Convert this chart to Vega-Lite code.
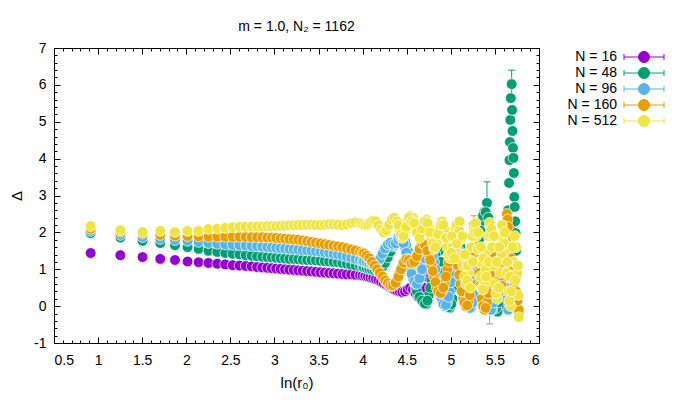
{
"$schema":"https://vega.github.io/schema/vega-lite/v6.json",
"width":485,"height":295,"autosize":"none",
"padding":{"left":54,"top":48,"right":141,"bottom":65},
"title":{"text":"m = 1.0, N₂ = 1162","font":"Liberation Sans","fontSize":14,"fontWeight":"normal","color":"black","offset":12,"dy":5},
"config":{"view":{"stroke":"black","strokeWidth":1},
"axis":{"domain":false,"grid":false,"tickColor":"black","labelColor":"black","labelFont":"Liberation Sans","labelFontSize":14,"titleFont":"Liberation Sans","titleFontSize":15,"titleFontWeight":"normal","titleColor":"black"}},
"data":{"values":[
{"N":"N = 16","x":0.916,"y":1.44},{"N":"N = 16","x":1.253,"y":1.38},{"N":"N = 16","x":1.504,"y":1.33},{"N":"N = 16","x":1.705,"y":1.28},{"N":"N = 16","x":1.872,"y":1.25},{"N":"N = 16","x":2.015,"y":1.21},{"N":"N = 16","x":2.14,"y":1.19},{"N":"N = 16","x":2.251,"y":1.17},{"N":"N = 16","x":2.351,"y":1.15},{"N":"N = 16","x":2.442,"y":1.13},{"N":"N = 16","x":2.526,"y":1.11},{"N":"N = 16","x":2.603,"y":1.1},{"N":"N = 16","x":2.674,"y":1.09},{"N":"N = 16","x":2.741,"y":1.08},{"N":"N = 16","x":2.803,"y":1.06},{"N":"N = 16","x":2.862,"y":1.05},{"N":"N = 16","x":2.918,"y":1.04},{"N":"N = 16","x":2.97,"y":1.03},
{"N":"N = 16","x":3.02,"y":1.02},{"N":"N = 16","x":3.07,"y":1.01},{"N":"N = 16","x":3.12,"y":1.0},{"N":"N = 16","x":3.17,"y":0.99},{"N":"N = 16","x":3.22,"y":0.98},{"N":"N = 16","x":3.27,"y":0.97},{"N":"N = 16","x":3.32,"y":0.96},{"N":"N = 16","x":3.37,"y":0.95},{"N":"N = 16","x":3.42,"y":0.94},{"N":"N = 16","x":3.47,"y":0.93},{"N":"N = 16","x":3.52,"y":0.92},{"N":"N = 16","x":3.57,"y":0.91},{"N":"N = 16","x":3.62,"y":0.9},{"N":"N = 16","x":3.67,"y":0.89},{"N":"N = 16","x":3.72,"y":0.88},{"N":"N = 16","x":3.77,"y":0.87},{"N":"N = 16","x":3.82,"y":0.86},{"N":"N = 16","x":3.87,"y":0.86},{"N":"N = 16","x":3.92,"y":0.85},{"N":"N = 16","x":3.97,"y":0.84},
{"N":"N = 16","x":4.0,"y":0.83},{"N":"N = 16","x":4.03,"y":0.82},{"N":"N = 16","x":4.06,"y":0.8},{"N":"N = 16","x":4.09,"y":0.78},{"N":"N = 16","x":4.12,"y":0.76},{"N":"N = 16","x":4.15,"y":0.73},{"N":"N = 16","x":4.18,"y":0.7},{"N":"N = 16","x":4.21,"y":0.66},{"N":"N = 16","x":4.24,"y":0.62},{"N":"N = 16","x":4.27,"y":0.58},{"N":"N = 16","x":4.3,"y":0.54},{"N":"N = 16","x":4.33,"y":0.5},{"N":"N = 16","x":4.36,"y":0.45},{"N":"N = 16","x":4.39,"y":0.42},{"N":"N = 16","x":4.42,"y":0.4},{"N":"N = 16","x":4.45,"y":0.38},{"N":"N = 16","x":4.48,"y":0.4},{"N":"N = 16","x":4.51,"y":0.45},{"N":"N = 16","x":4.54,"y":0.5},{"N":"N = 16","x":4.57,"y":0.45},{"N":"N = 16","x":4.6,"y":0.35},{"N":"N = 16","x":4.63,"y":0.25},{"N":"N = 16","x":4.66,"y":0.3},{"N":"N = 16","x":4.69,"y":0.5},{"N":"N = 16","x":4.72,"y":0.8},{"N":"N = 16","x":4.75,"y":1.0},{"N":"N = 16","x":4.78,"y":1.1},{"N":"N = 16","x":4.81,"y":1.0},{"N":"N = 16","x":4.84,"y":0.8},{"N":"N = 16","x":4.87,"y":0.55},{"N":"N = 16","x":4.9,"y":0.35},{"N":"N = 16","x":4.93,"y":0.2},{"N":"N = 16","x":4.96,"y":0.15},{"N":"N = 16","x":4.99,"y":0.3},{"N":"N = 16","x":5.02,"y":0.6},{"N":"N = 16","x":5.05,"y":0.9},{"N":"N = 16","x":5.08,"y":1.1},{"N":"N = 16","x":5.11,"y":1.05},{"N":"N = 16","x":5.14,"y":0.8},{"N":"N = 16","x":5.17,"y":0.4},{"N":"N = 16","x":5.2,"y":0.1},{"N":"N = 16","x":5.23,"y":0.0},{"N":"N = 16","x":5.26,"y":0.3},{"N":"N = 16","x":5.29,"y":0.8},{"N":"N = 16","x":5.32,"y":1.2},{"N":"N = 16","x":5.35,"y":1.0},{"N":"N = 16","x":5.38,"y":0.5},{"N":"N = 16","x":5.41,"y":0.1},{"N":"N = 16","x":5.44,"y":0.05},{"N":"N = 16","x":5.47,"y":0.6},{"N":"N = 16","x":5.5,"y":1.2},{"N":"N = 16","x":5.53,"y":1.1},{"N":"N = 16","x":5.56,"y":0.4},{"N":"N = 16","x":5.59,"y":0.0},{"N":"N = 16","x":5.62,"y":0.5},{"N":"N = 16","x":5.65,"y":1.5},{"N":"N = 16","x":5.68,"y":2.2},{"N":"N = 16","x":5.71,"y":1.0},{"N":"N = 16","x":5.74,"y":0.0},{"N":"N = 16","x":5.77,"y":-0.1},

{"N":"N = 48","x":0.916,"y":1.98},{"N":"N = 48","x":1.253,"y":1.86},{"N":"N = 48","x":1.504,"y":1.77},{"N":"N = 48","x":1.705,"y":1.71},{"N":"N = 48","x":1.872,"y":1.65},{"N":"N = 48","x":2.015,"y":1.6},{"N":"N = 48","x":2.14,"y":1.55},{"N":"N = 48","x":2.251,"y":1.5},{"N":"N = 48","x":2.351,"y":1.47},{"N":"N = 48","x":2.442,"y":1.44},{"N":"N = 48","x":2.526,"y":1.42},{"N":"N = 48","x":2.603,"y":1.4},{"N":"N = 48","x":2.674,"y":1.38},{"N":"N = 48","x":2.741,"y":1.37},{"N":"N = 48","x":2.803,"y":1.35},{"N":"N = 48","x":2.862,"y":1.34},{"N":"N = 48","x":2.918,"y":1.33},{"N":"N = 48","x":2.97,"y":1.32},
{"N":"N = 48","x":3.02,"y":1.31},{"N":"N = 48","x":3.07,"y":1.3},{"N":"N = 48","x":3.12,"y":1.29},{"N":"N = 48","x":3.17,"y":1.28},{"N":"N = 48","x":3.22,"y":1.28},{"N":"N = 48","x":3.27,"y":1.27},{"N":"N = 48","x":3.32,"y":1.26},{"N":"N = 48","x":3.37,"y":1.25},{"N":"N = 48","x":3.42,"y":1.25},{"N":"N = 48","x":3.47,"y":1.24},{"N":"N = 48","x":3.52,"y":1.23},{"N":"N = 48","x":3.57,"y":1.22},{"N":"N = 48","x":3.62,"y":1.21},{"N":"N = 48","x":3.67,"y":1.2},{"N":"N = 48","x":3.72,"y":1.19},{"N":"N = 48","x":3.77,"y":1.17},{"N":"N = 48","x":3.82,"y":1.15},{"N":"N = 48","x":3.87,"y":1.12},{"N":"N = 48","x":3.92,"y":1.1},{"N":"N = 48","x":3.97,"y":1.08},
{"N":"N = 48","x":4.0,"y":1.06},{"N":"N = 48","x":4.03,"y":1.04},{"N":"N = 48","x":4.06,"y":1.02},{"N":"N = 48","x":4.09,"y":1.0},{"N":"N = 48","x":4.12,"y":0.98},{"N":"N = 48","x":4.15,"y":0.97},{"N":"N = 48","x":4.18,"y":0.98},{"N":"N = 48","x":4.21,"y":1.02},{"N":"N = 48","x":4.24,"y":1.1},{"N":"N = 48","x":4.27,"y":1.25},{"N":"N = 48","x":4.3,"y":1.4},{"N":"N = 48","x":4.33,"y":1.55},{"N":"N = 48","x":4.36,"y":1.7},{"N":"N = 48","x":4.39,"y":1.82},{"N":"N = 48","x":4.42,"y":1.9},{"N":"N = 48","x":4.45,"y":1.88},{"N":"N = 48","x":4.48,"y":1.75},{"N":"N = 48","x":4.51,"y":1.5},{"N":"N = 48","x":4.54,"y":1.15},{"N":"N = 48","x":4.57,"y":0.8},{"N":"N = 48","x":4.6,"y":0.5},{"N":"N = 48","x":4.63,"y":0.3},{"N":"N = 48","x":4.66,"y":0.2},{"N":"N = 48","x":4.69,"y":0.1},{"N":"N = 48","x":4.72,"y":0.05},{"N":"N = 48","x":4.75,"y":0.3},{"N":"N = 48","x":4.78,"y":0.7},{"N":"N = 48","x":4.81,"y":1.2},{"N":"N = 48","x":4.84,"y":1.6},{"N":"N = 48","x":4.87,"y":1.5},{"N":"N = 48","x":4.9,"y":0.9},{"N":"N = 48","x":4.93,"y":0.3},{"N":"N = 48","x":4.96,"y":0.0},{"N":"N = 48","x":4.99,"y":-0.05},{"N":"N = 48","x":5.02,"y":0.2},{"N":"N = 48","x":5.05,"y":0.8},{"N":"N = 48","x":5.08,"y":1.4},{"N":"N = 48","x":5.11,"y":1.6},{"N":"N = 48","x":5.14,"y":1.2},{"N":"N = 48","x":5.17,"y":0.6},{"N":"N = 48","x":5.2,"y":0.1},{"N":"N = 48","x":5.23,"y":0.0},{"N":"N = 48","x":5.26,"y":0.4},{"N":"N = 48","x":5.29,"y":1.1},{"N":"N = 48","x":5.32,"y":1.8},{"N":"N = 48","x":5.35,"y":2.3},{"N":"N = 48","x":5.38,"y":2.55},{"N":"N = 48","x":5.41,"y":2.8,"lo":2.25,"hi":3.37},{"N":"N = 48","x":5.44,"y":2.0},{"N":"N = 48","x":5.47,"y":1.0},{"N":"N = 48","x":5.5,"y":0.1},{"N":"N = 48","x":5.53,"y":-0.15},{"N":"N = 48","x":5.56,"y":0.3},{"N":"N = 48","x":5.59,"y":1.0},{"N":"N = 48","x":5.62,"y":2.0},{"N":"N = 48","x":5.65,"y":2.6},{"N":"N = 48","x":5.66,"y":3.34},{"N":"N = 48","x":5.665,"y":3.96},{"N":"N = 48","x":5.67,"y":4.45},{"N":"N = 48","x":5.675,"y":5.05},{"N":"N = 48","x":5.68,"y":5.64},{"N":"N = 48","x":5.69,"y":6.02,"lo":5.64,"hi":6.4},{"N":"N = 48","x":5.695,"y":5.32},{"N":"N = 48","x":5.7,"y":4.75},{"N":"N = 48","x":5.705,"y":4.29},{"N":"N = 48","x":5.71,"y":4.02},{"N":"N = 48","x":5.715,"y":3.61},{"N":"N = 48","x":5.72,"y":2.96},{"N":"N = 48","x":5.725,"y":2.69},{"N":"N = 48","x":5.73,"y":2.3},{"N":"N = 48","x":5.735,"y":1.98},{"N":"N = 48","x":5.74,"y":1.5},{"N":"N = 48","x":5.75,"y":0.9},{"N":"N = 48","x":5.76,"y":0.3},{"N":"N = 48","x":5.77,"y":-0.1},
{"N":"N = 48","x":4.015,"y":1.05},{"N":"N = 48","x":4.045,"y":1.03},{"N":"N = 48","x":4.075,"y":1.01},{"N":"N = 48","x":4.105,"y":0.99},{"N":"N = 48","x":4.135,"y":0.97},{"N":"N = 48","x":4.165,"y":0.97},{"N":"N = 48","x":4.195,"y":1.0},{"N":"N = 48","x":4.225,"y":1.06},{"N":"N = 48","x":4.255,"y":1.17},{"N":"N = 48","x":4.285,"y":1.32},{"N":"N = 48","x":4.315,"y":1.48},{"N":"N = 48","x":4.345,"y":1.62},{"N":"N = 48","x":4.375,"y":1.76},{"N":"N = 48","x":4.405,"y":1.86},{"N":"N = 48","x":4.435,"y":1.9},{"N":"N = 48","x":4.465,"y":1.82},{"N":"N = 48","x":4.495,"y":1.63},{"N":"N = 48","x":4.525,"y":1.33},{"N":"N = 48","x":4.555,"y":0.97},{"N":"N = 48","x":4.585,"y":0.65},{"N":"N = 48","x":4.615,"y":0.4},{"N":"N = 48","x":4.645,"y":0.25},{"N":"N = 48","x":4.675,"y":0.15},{"N":"N = 48","x":4.705,"y":0.07},{"N":"N = 48","x":4.735,"y":0.15},{"N":"N = 48","x":4.765,"y":0.5},{"N":"N = 48","x":4.795,"y":0.95},{"N":"N = 48","x":4.825,"y":1.4},{"N":"N = 48","x":4.855,"y":1.6},{"N":"N = 48","x":4.885,"y":1.2},{"N":"N = 48","x":4.915,"y":0.6},{"N":"N = 48","x":4.945,"y":0.15},{"N":"N = 48","x":4.975,"y":-0.03},{"N":"N = 48","x":5.005,"y":0.05},{"N":"N = 48","x":5.035,"y":0.5},{"N":"N = 48","x":5.065,"y":1.1},{"N":"N = 48","x":5.095,"y":1.5},{"N":"N = 48","x":5.125,"y":1.4},{"N":"N = 48","x":5.155,"y":0.9},{"N":"N = 48","x":5.185,"y":0.35},{"N":"N = 48","x":5.215,"y":0.05},{"N":"N = 48","x":5.245,"y":0.2},{"N":"N = 48","x":5.275,"y":0.75},{"N":"N = 48","x":5.305,"y":1.45},{"N":"N = 48","x":5.335,"y":2.05},{"N":"N = 48","x":5.365,"y":2.45},{"N":"N = 48","x":5.395,"y":2.55},{"N":"N = 48","x":5.425,"y":2.4},{"N":"N = 48","x":5.455,"y":1.5},{"N":"N = 48","x":5.485,"y":0.5},{"N":"N = 48","x":5.515,"y":-0.05},{"N":"N = 48","x":5.545,"y":0.1},{"N":"N = 48","x":5.575,"y":0.65},{"N":"N = 48","x":5.605,"y":1.5},{"N":"N = 48","x":5.635,"y":2.3},

{"N":"N = 96","x":0.916,"y":2.04},{"N":"N = 96","x":1.253,"y":1.93},{"N":"N = 96","x":1.504,"y":1.87},{"N":"N = 96","x":1.705,"y":1.82},{"N":"N = 96","x":1.872,"y":1.79},{"N":"N = 96","x":2.015,"y":1.77},{"N":"N = 96","x":2.14,"y":1.74},{"N":"N = 96","x":2.251,"y":1.71},{"N":"N = 96","x":2.351,"y":1.69},{"N":"N = 96","x":2.442,"y":1.67},{"N":"N = 96","x":2.526,"y":1.66},{"N":"N = 96","x":2.603,"y":1.65},{"N":"N = 96","x":2.674,"y":1.64},{"N":"N = 96","x":2.741,"y":1.63},{"N":"N = 96","x":2.803,"y":1.62},{"N":"N = 96","x":2.862,"y":1.61},{"N":"N = 96","x":2.918,"y":1.6},{"N":"N = 96","x":2.97,"y":1.59},
{"N":"N = 96","x":3.02,"y":1.58},{"N":"N = 96","x":3.07,"y":1.57},{"N":"N = 96","x":3.12,"y":1.56},{"N":"N = 96","x":3.17,"y":1.55},{"N":"N = 96","x":3.22,"y":1.54},{"N":"N = 96","x":3.27,"y":1.53},{"N":"N = 96","x":3.32,"y":1.52},{"N":"N = 96","x":3.37,"y":1.51},{"N":"N = 96","x":3.42,"y":1.5},{"N":"N = 96","x":3.47,"y":1.49},{"N":"N = 96","x":3.52,"y":1.48},{"N":"N = 96","x":3.57,"y":1.46},{"N":"N = 96","x":3.62,"y":1.44},{"N":"N = 96","x":3.67,"y":1.42},{"N":"N = 96","x":3.72,"y":1.4},{"N":"N = 96","x":3.77,"y":1.37},{"N":"N = 96","x":3.82,"y":1.34},{"N":"N = 96","x":3.87,"y":1.31},{"N":"N = 96","x":3.92,"y":1.28},{"N":"N = 96","x":3.97,"y":1.25},
{"N":"N = 96","x":4.0,"y":1.22},{"N":"N = 96","x":4.03,"y":1.2},{"N":"N = 96","x":4.06,"y":1.18},{"N":"N = 96","x":4.09,"y":1.15},{"N":"N = 96","x":4.12,"y":1.13},{"N":"N = 96","x":4.15,"y":1.15},{"N":"N = 96","x":4.18,"y":1.22},{"N":"N = 96","x":4.21,"y":1.35},{"N":"N = 96","x":4.24,"y":1.5},{"N":"N = 96","x":4.27,"y":1.62},{"N":"N = 96","x":4.3,"y":1.7},{"N":"N = 96","x":4.33,"y":1.72},{"N":"N = 96","x":4.36,"y":1.65},{"N":"N = 96","x":4.39,"y":1.75},{"N":"N = 96","x":4.42,"y":1.85},{"N":"N = 96","x":4.45,"y":1.8},{"N":"N = 96","x":4.48,"y":1.6},{"N":"N = 96","x":4.51,"y":1.3},{"N":"N = 96","x":4.54,"y":1.0},{"N":"N = 96","x":4.57,"y":0.75},{"N":"N = 96","x":4.6,"y":0.6},{"N":"N = 96","x":4.63,"y":0.65},{"N":"N = 96","x":4.66,"y":0.85},{"N":"N = 96","x":4.69,"y":1.15},{"N":"N = 96","x":4.72,"y":1.45},{"N":"N = 96","x":4.75,"y":1.6},{"N":"N = 96","x":4.78,"y":1.5},{"N":"N = 96","x":4.81,"y":1.2},{"N":"N = 96","x":4.84,"y":0.8},{"N":"N = 96","x":4.87,"y":0.4},{"N":"N = 96","x":4.9,"y":0.15},{"N":"N = 96","x":4.93,"y":0.0},{"N":"N = 96","x":4.96,"y":0.1},{"N":"N = 96","x":4.99,"y":0.4},{"N":"N = 96","x":5.02,"y":0.9},{"N":"N = 96","x":5.05,"y":1.3},{"N":"N = 96","x":5.08,"y":1.5},{"N":"N = 96","x":5.11,"y":1.3},{"N":"N = 96","x":5.14,"y":0.8},{"N":"N = 96","x":5.17,"y":0.3},{"N":"N = 96","x":5.2,"y":0.0},{"N":"N = 96","x":5.23,"y":-0.05},{"N":"N = 96","x":5.26,"y":0.3},{"N":"N = 96","x":5.29,"y":0.9},{"N":"N = 96","x":5.32,"y":1.4},{"N":"N = 96","x":5.35,"y":1.5},{"N":"N = 96","x":5.38,"y":1.0},{"N":"N = 96","x":5.41,"y":0.4},{"N":"N = 96","x":5.44,"y":0.0,"lo":-0.48,"hi":0.48},{"N":"N = 96","x":5.47,"y":-0.1},{"N":"N = 96","x":5.5,"y":0.3},{"N":"N = 96","x":5.53,"y":1.0},{"N":"N = 96","x":5.56,"y":1.6},{"N":"N = 96","x":5.59,"y":1.3},{"N":"N = 96","x":5.62,"y":0.5},{"N":"N = 96","x":5.65,"y":-0.1},{"N":"N = 96","x":5.68,"y":0.3},{"N":"N = 96","x":5.71,"y":1.2},{"N":"N = 96","x":5.74,"y":0.8},{"N":"N = 96","x":5.77,"y":-0.2},
{"N":"N = 96","x":4.015,"y":1.21},{"N":"N = 96","x":4.045,"y":1.19},{"N":"N = 96","x":4.075,"y":1.16},{"N":"N = 96","x":4.105,"y":1.14},{"N":"N = 96","x":4.135,"y":1.13},{"N":"N = 96","x":4.165,"y":1.18},{"N":"N = 96","x":4.195,"y":1.28},{"N":"N = 96","x":4.225,"y":1.42},{"N":"N = 96","x":4.255,"y":1.56},{"N":"N = 96","x":4.285,"y":1.67},{"N":"N = 96","x":4.315,"y":1.72},{"N":"N = 96","x":4.345,"y":1.68},{"N":"N = 96","x":4.375,"y":1.7},{"N":"N = 96","x":4.405,"y":1.8},{"N":"N = 96","x":4.435,"y":1.85},{"N":"N = 96","x":4.465,"y":1.7},{"N":"N = 96","x":4.495,"y":1.45},{"N":"N = 96","x":4.525,"y":1.15},{"N":"N = 96","x":4.555,"y":0.88},{"N":"N = 96","x":4.585,"y":0.67},{"N":"N = 96","x":4.615,"y":0.6},{"N":"N = 96","x":4.645,"y":0.75},{"N":"N = 96","x":4.675,"y":1.0},{"N":"N = 96","x":4.705,"y":1.3},{"N":"N = 96","x":4.735,"y":1.55},{"N":"N = 96","x":4.765,"y":1.57},{"N":"N = 96","x":4.795,"y":1.35},{"N":"N = 96","x":4.825,"y":1.0},{"N":"N = 96","x":4.855,"y":0.6},{"N":"N = 96","x":4.885,"y":0.25},{"N":"N = 96","x":4.915,"y":0.05},{"N":"N = 96","x":4.945,"y":0.03},{"N":"N = 96","x":4.975,"y":0.25},{"N":"N = 96","x":5.005,"y":0.65},{"N":"N = 96","x":5.035,"y":1.1},{"N":"N = 96","x":5.065,"y":1.42},{"N":"N = 96","x":5.095,"y":1.42},{"N":"N = 96","x":5.125,"y":1.05},{"N":"N = 96","x":5.155,"y":0.55},{"N":"N = 96","x":5.185,"y":0.12},{"N":"N = 96","x":5.215,"y":-0.05},{"N":"N = 96","x":5.245,"y":0.1},{"N":"N = 96","x":5.275,"y":0.6},{"N":"N = 96","x":5.305,"y":1.15},{"N":"N = 96","x":5.335,"y":1.5},{"N":"N = 96","x":5.365,"y":1.25},{"N":"N = 96","x":5.395,"y":0.7},{"N":"N = 96","x":5.425,"y":0.15},{"N":"N = 96","x":5.455,"y":-0.1},{"N":"N = 96","x":5.485,"y":0.1},{"N":"N = 96","x":5.515,"y":0.65},{"N":"N = 96","x":5.545,"y":1.3},{"N":"N = 96","x":5.575,"y":1.5},{"N":"N = 96","x":5.605,"y":0.9},{"N":"N = 96","x":5.635,"y":0.2},{"N":"N = 96","x":5.665,"y":0.05},{"N":"N = 96","x":5.695,"y":0.75},{"N":"N = 96","x":5.725,"y":1.05},{"N":"N = 96","x":5.755,"y":0.3},

{"N":"N = 160","x":0.916,"y":2.1},{"N":"N = 160","x":1.253,"y":2.02},{"N":"N = 160","x":1.504,"y":1.97},{"N":"N = 160","x":1.705,"y":1.93},{"N":"N = 160","x":1.872,"y":1.91},{"N":"N = 160","x":2.015,"y":1.9},{"N":"N = 160","x":2.14,"y":1.89},{"N":"N = 160","x":2.251,"y":1.88},{"N":"N = 160","x":2.351,"y":1.88},{"N":"N = 160","x":2.442,"y":1.88},{"N":"N = 160","x":2.526,"y":1.88},{"N":"N = 160","x":2.603,"y":1.88},{"N":"N = 160","x":2.674,"y":1.88},{"N":"N = 160","x":2.741,"y":1.87},{"N":"N = 160","x":2.803,"y":1.87},{"N":"N = 160","x":2.862,"y":1.87},{"N":"N = 160","x":2.918,"y":1.86},{"N":"N = 160","x":2.97,"y":1.86},
{"N":"N = 160","x":3.02,"y":1.85},{"N":"N = 160","x":3.07,"y":1.84},{"N":"N = 160","x":3.12,"y":1.83},{"N":"N = 160","x":3.17,"y":1.82},{"N":"N = 160","x":3.22,"y":1.81},{"N":"N = 160","x":3.27,"y":1.8},{"N":"N = 160","x":3.32,"y":1.78},{"N":"N = 160","x":3.37,"y":1.76},{"N":"N = 160","x":3.42,"y":1.74},{"N":"N = 160","x":3.47,"y":1.72},{"N":"N = 160","x":3.52,"y":1.7},{"N":"N = 160","x":3.57,"y":1.68},{"N":"N = 160","x":3.62,"y":1.66},{"N":"N = 160","x":3.67,"y":1.64},{"N":"N = 160","x":3.72,"y":1.62},{"N":"N = 160","x":3.77,"y":1.6},{"N":"N = 160","x":3.82,"y":1.57},{"N":"N = 160","x":3.87,"y":1.54},{"N":"N = 160","x":3.92,"y":1.51},{"N":"N = 160","x":3.97,"y":1.48},
{"N":"N = 160","x":4.0,"y":1.45},{"N":"N = 160","x":4.03,"y":1.4},{"N":"N = 160","x":4.06,"y":1.33},{"N":"N = 160","x":4.09,"y":1.25},{"N":"N = 160","x":4.12,"y":1.15},{"N":"N = 160","x":4.15,"y":1.05},{"N":"N = 160","x":4.18,"y":0.95},{"N":"N = 160","x":4.21,"y":0.85},{"N":"N = 160","x":4.24,"y":0.75},{"N":"N = 160","x":4.27,"y":0.65},{"N":"N = 160","x":4.3,"y":0.58},{"N":"N = 160","x":4.33,"y":0.55},{"N":"N = 160","x":4.36,"y":0.58},{"N":"N = 160","x":4.39,"y":0.7},{"N":"N = 160","x":4.42,"y":0.9},{"N":"N = 160","x":4.45,"y":1.1},{"N":"N = 160","x":4.48,"y":1.25},{"N":"N = 160","x":4.51,"y":1.28},{"N":"N = 160","x":4.54,"y":1.2},{"N":"N = 160","x":4.57,"y":1.15},{"N":"N = 160","x":4.6,"y":1.25},{"N":"N = 160","x":4.63,"y":1.45},{"N":"N = 160","x":4.66,"y":1.65},{"N":"N = 160","x":4.69,"y":1.7},{"N":"N = 160","x":4.72,"y":1.6},{"N":"N = 160","x":4.75,"y":1.4},{"N":"N = 160","x":4.78,"y":1.1},{"N":"N = 160","x":4.81,"y":0.8},{"N":"N = 160","x":4.84,"y":0.5},{"N":"N = 160","x":4.87,"y":0.35},{"N":"N = 160","x":4.9,"y":0.4},{"N":"N = 160","x":4.93,"y":0.65},{"N":"N = 160","x":4.96,"y":1.0},{"N":"N = 160","x":4.99,"y":1.35},{"N":"N = 160","x":5.02,"y":1.6},{"N":"N = 160","x":5.05,"y":1.5},{"N":"N = 160","x":5.08,"y":1.1},{"N":"N = 160","x":5.11,"y":0.6},{"N":"N = 160","x":5.14,"y":0.2},{"N":"N = 160","x":5.17,"y":0.0},{"N":"N = 160","x":5.2,"y":0.1},{"N":"N = 160","x":5.23,"y":0.6},{"N":"N = 160","x":5.26,"y":2.2,"lo":2.0,"hi":2.45},{"N":"N = 160","x":5.29,"y":1.6},{"N":"N = 160","x":5.32,"y":0.9},{"N":"N = 160","x":5.35,"y":0.2},{"N":"N = 160","x":5.38,"y":-0.1},{"N":"N = 160","x":5.41,"y":0.1},{"N":"N = 160","x":5.44,"y":0.6},{"N":"N = 160","x":5.47,"y":1.2},{"N":"N = 160","x":5.5,"y":1.4},{"N":"N = 160","x":5.53,"y":1.0},{"N":"N = 160","x":5.56,"y":0.4},{"N":"N = 160","x":5.59,"y":0.8},{"N":"N = 160","x":5.62,"y":1.6},{"N":"N = 160","x":5.625,"y":2.1},{"N":"N = 160","x":5.635,"y":2.5,"lo":2.3,"hi":2.7},{"N":"N = 160","x":5.645,"y":2.35},{"N":"N = 160","x":5.65,"y":2.15},{"N":"N = 160","x":5.655,"y":1.9},{"N":"N = 160","x":5.665,"y":1.6},{"N":"N = 160","x":5.68,"y":1.3},{"N":"N = 160","x":5.71,"y":0.9},{"N":"N = 160","x":5.74,"y":0.4},{"N":"N = 160","x":5.77,"y":-0.1},
{"N":"N = 160","x":4.015,"y":1.43},{"N":"N = 160","x":4.045,"y":1.37},{"N":"N = 160","x":4.075,"y":1.3},{"N":"N = 160","x":4.105,"y":1.2},{"N":"N = 160","x":4.135,"y":1.1},{"N":"N = 160","x":4.165,"y":1.0},{"N":"N = 160","x":4.195,"y":0.9},{"N":"N = 160","x":4.225,"y":0.8},{"N":"N = 160","x":4.255,"y":0.7},{"N":"N = 160","x":4.285,"y":0.62},{"N":"N = 160","x":4.315,"y":0.56},{"N":"N = 160","x":4.345,"y":0.56},{"N":"N = 160","x":4.375,"y":0.63},{"N":"N = 160","x":4.405,"y":0.8},{"N":"N = 160","x":4.435,"y":1.0},{"N":"N = 160","x":4.465,"y":1.18},{"N":"N = 160","x":4.495,"y":1.27},{"N":"N = 160","x":4.525,"y":1.25},{"N":"N = 160","x":4.555,"y":1.17},{"N":"N = 160","x":4.585,"y":1.2},{"N":"N = 160","x":4.615,"y":1.35},{"N":"N = 160","x":4.645,"y":1.55},{"N":"N = 160","x":4.675,"y":1.7},{"N":"N = 160","x":4.705,"y":1.67},{"N":"N = 160","x":4.735,"y":1.5},{"N":"N = 160","x":4.765,"y":1.25},{"N":"N = 160","x":4.795,"y":0.95},{"N":"N = 160","x":4.825,"y":0.65},{"N":"N = 160","x":4.855,"y":0.4},{"N":"N = 160","x":4.885,"y":0.35},{"N":"N = 160","x":4.915,"y":0.5},{"N":"N = 160","x":4.945,"y":0.8},{"N":"N = 160","x":4.975,"y":1.2},{"N":"N = 160","x":5.005,"y":1.5},{"N":"N = 160","x":5.035,"y":1.58},{"N":"N = 160","x":5.065,"y":1.3},{"N":"N = 160","x":5.095,"y":0.85},{"N":"N = 160","x":5.125,"y":0.4},{"N":"N = 160","x":5.155,"y":0.1},{"N":"N = 160","x":5.185,"y":0.02},{"N":"N = 160","x":5.215,"y":0.3},{"N":"N = 160","x":5.245,"y":1.4},{"N":"N = 160","x":5.275,"y":1.9},{"N":"N = 160","x":5.305,"y":1.25},{"N":"N = 160","x":5.335,"y":0.55},{"N":"N = 160","x":5.365,"y":0.0},{"N":"N = 160","x":5.395,"y":-0.05},{"N":"N = 160","x":5.425,"y":0.35},{"N":"N = 160","x":5.455,"y":0.9},{"N":"N = 160","x":5.485,"y":1.35},{"N":"N = 160","x":5.515,"y":1.2},{"N":"N = 160","x":5.545,"y":0.7},{"N":"N = 160","x":5.575,"y":0.55},{"N":"N = 160","x":5.605,"y":1.2},{"N":"N = 160","x":5.695,"y":1.1},{"N":"N = 160","x":5.725,"y":0.65},{"N":"N = 160","x":5.755,"y":0.15},

{"N":"N = 512","x":0.916,"y":2.17},{"N":"N = 512","x":1.253,"y":2.06},{"N":"N = 512","x":1.504,"y":2.01},{"N":"N = 512","x":1.705,"y":2.04},{"N":"N = 512","x":1.872,"y":2.01},{"N":"N = 512","x":2.015,"y":2.04},{"N":"N = 512","x":2.14,"y":2.04},{"N":"N = 512","x":2.251,"y":2.09},{"N":"N = 512","x":2.351,"y":2.1},{"N":"N = 512","x":2.442,"y":2.12},{"N":"N = 512","x":2.526,"y":2.14},{"N":"N = 512","x":2.603,"y":2.15},{"N":"N = 512","x":2.674,"y":2.15},{"N":"N = 512","x":2.741,"y":2.16},{"N":"N = 512","x":2.803,"y":2.16},{"N":"N = 512","x":2.862,"y":2.16},{"N":"N = 512","x":2.918,"y":2.17},{"N":"N = 512","x":2.97,"y":2.17},
{"N":"N = 512","x":3.02,"y":2.17},{"N":"N = 512","x":3.07,"y":2.18},{"N":"N = 512","x":3.12,"y":2.18},{"N":"N = 512","x":3.17,"y":2.19},{"N":"N = 512","x":3.22,"y":2.19},{"N":"N = 512","x":3.27,"y":2.2},{"N":"N = 512","x":3.32,"y":2.2},{"N":"N = 512","x":3.37,"y":2.21},{"N":"N = 512","x":3.42,"y":2.21},{"N":"N = 512","x":3.47,"y":2.2},{"N":"N = 512","x":3.52,"y":2.2},{"N":"N = 512","x":3.57,"y":2.21},{"N":"N = 512","x":3.62,"y":2.22},{"N":"N = 512","x":3.67,"y":2.22},{"N":"N = 512","x":3.72,"y":2.21},{"N":"N = 512","x":3.77,"y":2.2},{"N":"N = 512","x":3.82,"y":2.22},{"N":"N = 512","x":3.87,"y":2.25},{"N":"N = 512","x":3.92,"y":2.27},{"N":"N = 512","x":3.97,"y":2.25},
{"N":"N = 512","x":4.0,"y":2.22},{"N":"N = 512","x":4.03,"y":2.2},{"N":"N = 512","x":4.06,"y":2.22},{"N":"N = 512","x":4.09,"y":2.28},{"N":"N = 512","x":4.12,"y":2.32},{"N":"N = 512","x":4.15,"y":2.3},{"N":"N = 512","x":4.18,"y":2.2},{"N":"N = 512","x":4.21,"y":2.08},{"N":"N = 512","x":4.24,"y":2.0},{"N":"N = 512","x":4.27,"y":2.05},{"N":"N = 512","x":4.3,"y":2.2},{"N":"N = 512","x":4.33,"y":2.35},{"N":"N = 512","x":4.36,"y":2.4},{"N":"N = 512","x":4.39,"y":2.3},{"N":"N = 512","x":4.42,"y":2.05},{"N":"N = 512","x":4.45,"y":1.85},{"N":"N = 512","x":4.48,"y":2.0},{"N":"N = 512","x":4.51,"y":2.3},{"N":"N = 512","x":4.54,"y":2.45},{"N":"N = 512","x":4.57,"y":2.4},{"N":"N = 512","x":4.6,"y":2.15},{"N":"N = 512","x":4.63,"y":1.9},{"N":"N = 512","x":4.66,"y":1.95},{"N":"N = 512","x":4.69,"y":2.2},{"N":"N = 512","x":4.72,"y":2.35},{"N":"N = 512","x":4.75,"y":2.2},{"N":"N = 512","x":4.78,"y":1.85},{"N":"N = 512","x":4.81,"y":1.55},{"N":"N = 512","x":4.84,"y":1.7},{"N":"N = 512","x":4.87,"y":2.1},{"N":"N = 512","x":4.9,"y":2.3},{"N":"N = 512","x":4.93,"y":2.1},{"N":"N = 512","x":4.96,"y":1.6},{"N":"N = 512","x":4.99,"y":1.3},{"N":"N = 512","x":5.02,"y":1.6},{"N":"N = 512","x":5.05,"y":2.1},{"N":"N = 512","x":5.08,"y":2.25},{"N":"N = 512","x":5.11,"y":1.8},{"N":"N = 512","x":5.14,"y":1.1},{"N":"N = 512","x":5.17,"y":0.6},{"N":"N = 512","x":5.2,"y":0.9},{"N":"N = 512","x":5.23,"y":1.6},{"N":"N = 512","x":5.26,"y":2.1},{"N":"N = 512","x":5.29,"y":1.9},{"N":"N = 512","x":5.32,"y":1.2},{"N":"N = 512","x":5.35,"y":0.5},{"N":"N = 512","x":5.38,"y":0.6},{"N":"N = 512","x":5.41,"y":1.5},{"N":"N = 512","x":5.44,"y":2.26,"lo":1.7,"hi":2.83},{"N":"N = 512","x":5.47,"y":1.6},{"N":"N = 512","x":5.5,"y":0.6},{"N":"N = 512","x":5.53,"y":0.2},{"N":"N = 512","x":5.56,"y":0.9},{"N":"N = 512","x":5.59,"y":1.8},{"N":"N = 512","x":5.62,"y":1.5},{"N":"N = 512","x":5.65,"y":0.4},{"N":"N = 512","x":5.68,"y":0.0},{"N":"N = 512","x":5.695,"y":0.8},{"N":"N = 512","x":5.71,"y":1.2},{"N":"N = 512","x":5.725,"y":1.9},{"N":"N = 512","x":5.74,"y":1.6},{"N":"N = 512","x":5.755,"y":0.9},{"N":"N = 512","x":5.765,"y":0.3},{"N":"N = 512","x":5.77,"y":-0.3},
{"N":"N = 512","x":4.405,"y":2.2},{"N":"N = 512","x":4.435,"y":1.95},{"N":"N = 512","x":4.465,"y":1.9},{"N":"N = 512","x":4.495,"y":2.15},{"N":"N = 512","x":4.525,"y":2.4},{"N":"N = 512","x":4.555,"y":2.3},{"N":"N = 512","x":4.585,"y":2.25},{"N":"N = 512","x":4.615,"y":2.0},{"N":"N = 512","x":4.645,"y":1.85},{"N":"N = 512","x":4.675,"y":2.1},{"N":"N = 512","x":4.705,"y":2.3},{"N":"N = 512","x":4.735,"y":2.25},{"N":"N = 512","x":4.765,"y":2.0},{"N":"N = 512","x":4.795,"y":1.7},{"N":"N = 512","x":4.825,"y":1.6},{"N":"N = 512","x":4.855,"y":1.95},{"N":"N = 512","x":4.885,"y":2.2},{"N":"N = 512","x":4.915,"y":2.2},{"N":"N = 512","x":4.945,"y":1.85},{"N":"N = 512","x":4.975,"y":1.4},{"N":"N = 512","x":5.005,"y":1.45},{"N":"N = 512","x":5.035,"y":1.85},{"N":"N = 512","x":5.065,"y":2.2},{"N":"N = 512","x":5.095,"y":2.05},{"N":"N = 512","x":5.125,"y":1.4},{"N":"N = 512","x":5.155,"y":0.8},{"N":"N = 512","x":5.185,"y":0.7},{"N":"N = 512","x":5.215,"y":1.25},{"N":"N = 512","x":5.245,"y":1.9},{"N":"N = 512","x":5.275,"y":2.0},{"N":"N = 512","x":5.305,"y":1.55},{"N":"N = 512","x":5.335,"y":0.8},{"N":"N = 512","x":5.365,"y":0.45},{"N":"N = 512","x":5.395,"y":1.0},{"N":"N = 512","x":5.425,"y":1.9},{"N":"N = 512","x":5.455,"y":1.95},{"N":"N = 512","x":5.485,"y":1.1},{"N":"N = 512","x":5.515,"y":0.35},{"N":"N = 512","x":5.545,"y":0.5},{"N":"N = 512","x":5.575,"y":1.4},{"N":"N = 512","x":5.605,"y":1.7},{"N":"N = 512","x":5.635,"y":0.9},{"N":"N = 512","x":5.665,"y":0.15},{"N":"N = 512","x":5.685,"y":0.4},
{"N":"N = 512","x":5.01,"y":1.9},{"N":"N = 512","x":5.04,"y":1.3},{"N":"N = 512","x":5.07,"y":1.7},{"N":"N = 512","x":5.1,"y":2.3},{"N":"N = 512","x":5.13,"y":1.9},{"N":"N = 512","x":5.16,"y":1.4},{"N":"N = 512","x":5.19,"y":1.1},{"N":"N = 512","x":5.22,"y":0.5},{"N":"N = 512","x":5.25,"y":1.2},{"N":"N = 512","x":5.28,"y":2.25},{"N":"N = 512","x":5.31,"y":2.0},{"N":"N = 512","x":5.34,"y":1.6},{"N":"N = 512","x":5.37,"y":1.3},{"N":"N = 512","x":5.4,"y":0.8},{"N":"N = 512","x":5.43,"y":1.2},{"N":"N = 512","x":5.46,"y":2.1},{"N":"N = 512","x":5.49,"y":1.9},{"N":"N = 512","x":5.52,"y":1.2},{"N":"N = 512","x":5.55,"y":1.6},{"N":"N = 512","x":5.58,"y":2.2},{"N":"N = 512","x":5.61,"y":2.0},{"N":"N = 512","x":5.64,"y":1.2},{"N":"N = 512","x":5.67,"y":0.8},{"N":"N = 512","x":5.7,"y":1.6},{"N":"N = 512","x":5.73,"y":0.7},{"N":"N = 512","x":5.76,"y":1.1}
]},
"encoding":{"color":{"field":"N","type":"nominal","sort":null,
 "scale":{"domain":["N = 16","N = 48","N = 96","N = 160","N = 512"],"range":["#9400d3","#009e73","#56b4e9","#e69f00","#f0e442"]},
 "legend":{"orient":"none","legendX":583,"legendY":2,"title":null,"padding":0,"symbolType":"M-4,0H4M-4,-0.6V0.6M4,-0.6V0.6M-1.1,0A1.1,1.1 0 1,0 1.1,0A1.1,1.1 0 1,0 -1.1,0Z","symbolSize":100,"symbolStrokeWidth":1,"symbolOpacity":1,"labelAlign":"right","labelOffset":-34,"labelFont":"Liberation Sans","labelFontSize":14,"labelColor":"black","labelLimit":200,"rowPadding":0,
  "encode":{"symbols":{"update":{"fill":{"scale":"color","field":"value"},"stroke":{"scale":"color","field":"value"},"opacity":{"value":1}}}}}}},
"resolve":{"axis":{"x":"independent","y":"independent"}},
"layer":[
 {"transform":[{"filter":"isValid(datum.lo)"}],"mark":{"type":"rule","strokeWidth":1},
  "encoding":{"x":{"field":"x","type":"quantitative","scale":{"domain":[0.5,6],"nice":false,"zero":false},
     "axis":{"orient":"bottom","values":[0.5,1,1.5,2,2.5,3,3.5,4,4.5,5,5.5,6],"labelExpr":"''+datum.value","tickSize":-6,"labelPadding":16,"title":"ln(r₀)","titlePadding":8}},
   "y":{"field":"lo","type":"quantitative","scale":{"domain":[-1,7],"nice":false,"zero":false},
     "axis":{"orient":"left","values":[-1,0,1,2,3,4,5,6,7],"labelExpr":"''+datum.value","tickSize":-6,"labelPadding":14,"title":"Δ","titlePadding":9}},
   "y2":{"field":"hi"}}},
 {"transform":[{"filter":"isValid(datum.lo)"}],"mark":{"type":"tick","orient":"horizontal","size":7,"thickness":1,"opacity":1},
  "encoding":{"x":{"field":"x","type":"quantitative","axis":{"orient":"bottom","values":[0.5,0.6,0.7,0.8,0.9,1,1.1,1.2,1.3,1.4,1.5,1.6,1.7,1.8,1.9,2,2.1,2.2,2.3,2.4,2.5,2.6,2.7,2.8,2.9,3,3.1,3.2,3.3,3.4,3.5,3.6,3.7,3.8,3.9,4,4.1,4.2,4.3,4.4,4.5,4.6,4.7,4.8,4.9,5,5.1,5.2,5.3,5.4,5.5,5.6,5.7,5.8,5.9,6],"labels":false,"tickSize":-3,"title":null}},
   "y":{"field":"lo","type":"quantitative","axis":{"orient":"left","values":[-1,-0.8,-0.6,-0.4,-0.2,0,0.2,0.4,0.6,0.8,1,1.2,1.4,1.6,1.8,2,2.2,2.4,2.6,2.8,3,3.2,3.4,3.6,3.8,4,4.2,4.4,4.6,4.8,5,5.2,5.4,5.6,5.8,6,6.2,6.4,6.6,6.8,7],"labels":false,"tickSize":-3,"title":null}}}},
 {"transform":[{"filter":"isValid(datum.hi)"}],"mark":{"type":"tick","orient":"horizontal","size":7,"thickness":1,"opacity":1},
  "encoding":{"x":{"field":"x","type":"quantitative","axis":{"orient":"top","values":[0.5,1,1.5,2,2.5,3,3.5,4,4.5,5,5.5,6],"labels":false,"tickSize":-6,"title":null}},
   "y":{"field":"hi","type":"quantitative","axis":{"orient":"right","values":[-1,0,1,2,3,4,5,6,7],"labels":false,"tickSize":-6,"title":null}}}},
 {"mark":{"type":"circle","size":115,"opacity":1,"stroke":"white","strokeWidth":0.7},
  "encoding":{"x":{"field":"x","type":"quantitative","axis":{"orient":"top","values":[0.5,0.6,0.7,0.8,0.9,1,1.1,1.2,1.3,1.4,1.5,1.6,1.7,1.8,1.9,2,2.1,2.2,2.3,2.4,2.5,2.6,2.7,2.8,2.9,3,3.1,3.2,3.3,3.4,3.5,3.6,3.7,3.8,3.9,4,4.1,4.2,4.3,4.4,4.5,4.6,4.7,4.8,4.9,5,5.1,5.2,5.3,5.4,5.5,5.6,5.7,5.8,5.9,6],"labels":false,"tickSize":-3,"title":null}},
   "y":{"field":"y","type":"quantitative","axis":{"orient":"right","values":[-1,-0.8,-0.6,-0.4,-0.2,0,0.2,0.4,0.6,0.8,1,1.2,1.4,1.6,1.8,2,2.2,2.4,2.6,2.8,3,3.2,3.4,3.6,3.8,4,4.2,4.4,4.6,4.8,5,5.2,5.4,5.6,5.8,6,6.2,6.4,6.6,6.8,7],"labels":false,"tickSize":-3,"title":null}}}}
]}
